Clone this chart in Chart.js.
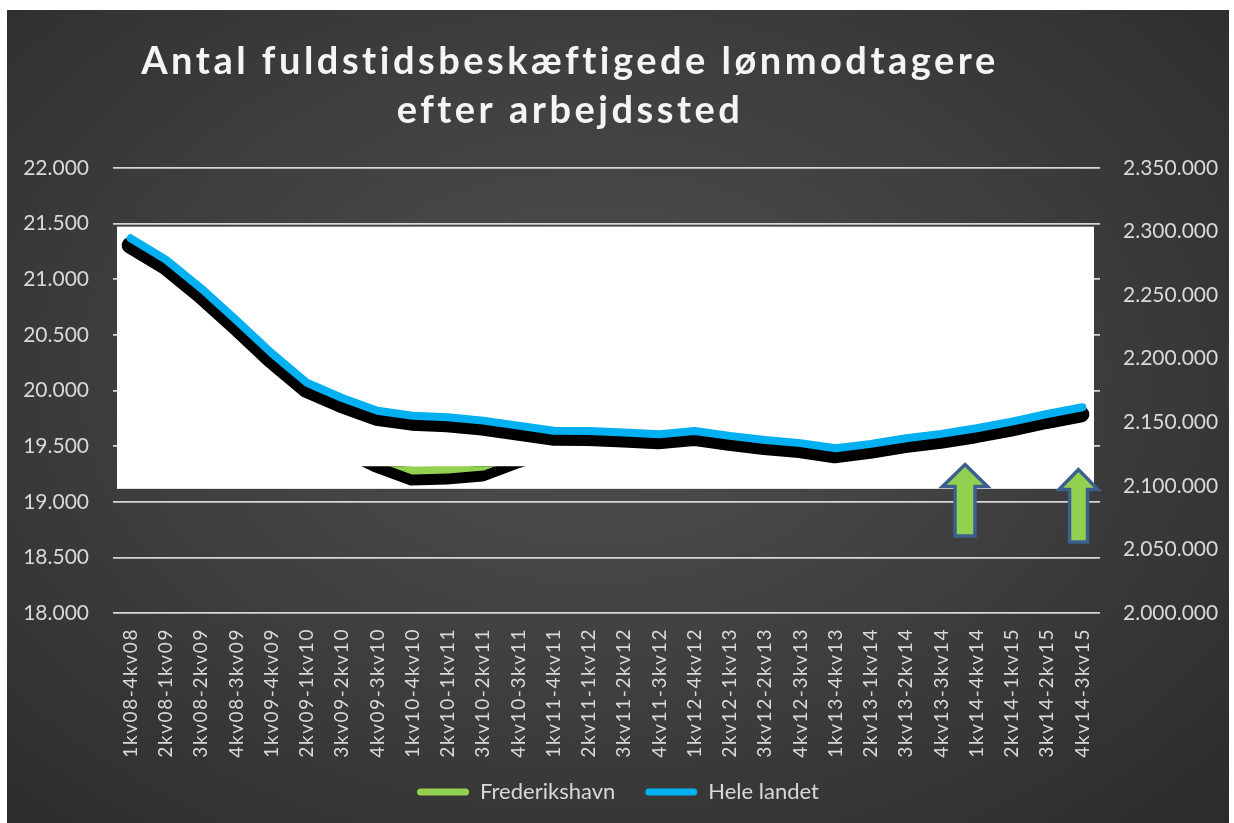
<!DOCTYPE html>
<html>
<head>
<meta charset="utf-8">
<script src="https://cdn.jsdelivr.net/npm/chart.js@4.4.1/dist/chart.umd.min.js"></script>
<style>
  html, body { margin: 0; padding: 0; background: #ffffff; width: 1234px; height: 823px; overflow: hidden; }
  #wrap {
    position: absolute; left: 7px; top: 10px; width: 1222px; height: 813px;
    background: radial-gradient(ellipse 75% 80% at 48% 45%, #4f4f4f 0%, #404040 45%, #2a2a2a 100%);
  }
  canvas { display: block; }
</style>
</head>
<body>
<div id="wrap"><canvas id="c" width="1222" height="813"></canvas></div>
<script>
// ---------- data ----------
const categories = [
  '1kv08-4kv08','2kv08-1kv09','3kv08-2kv09','4kv08-3kv09',
  '1kv09-4kv09','2kv09-1kv10','3kv09-2kv10','4kv09-3kv10',
  '1kv10-4kv10','2kv10-1kv11','3kv10-2kv11','4kv10-3kv11',
  '1kv11-4kv11','2kv11-1kv12','3kv11-2kv12','4kv11-3kv12',
  '1kv12-4kv12','2kv12-1kv13','3kv12-2kv13','4kv12-3kv13',
  '1kv13-4kv13','2kv13-1kv14','3kv13-2kv14','4kv13-3kv14',
  '1kv14-4kv14','2kv14-1kv15','3kv14-2kv15','4kv14-3kv15'
];
// Frederikshavn (left axis) - only the visible part can be read
const frederikshavn = [
  null, null, null, null, null, null, 19550, 19398,
  19280, 19289, 19316, 19435, 19540, null, null, null,
  null, null, null, null, null, null, null, null,
  null, null, null, null
];
// Hele landet (right axis)
const heleLandet = [
  2294700, 2277950, 2255400, 2230300, 2204400, 2181100, 2169100, 2159100,
  2155200, 2154000, 2151300, 2147400, 2143400, 2143200, 2141900, 2140600,
  2143200, 2139300, 2136100, 2133600, 2129600, 2133000, 2137500, 2140900,
  2145300, 2150500, 2156500, 2161800
];
const leftTicks = [18000, 18500, 19000, 19500, 20000, 20500, 21000, 21500, 22000];
const rightTicks = [2000000, 2050000, 2100000, 2150000, 2200000, 2250000, 2300000, 2350000];
const seriesNames = ['Frederikshavn', 'Hele landet'];
const titleLines = ['Antal fuldstidsbeskæftigede lønmodtagere', 'efter arbejdssted'];

// ---------- decoration (in scale units) ----------
const whiteBox = { top: 21473, bottom: 19116 };
const greenWindow = { top: 19318, bottom: 19116 };
const arrowMarks = [
  { at: 23.67, tip: 19334, base: 18692, head: 22.5, headH: 22, shaft: 10 },
  { at: 26.89, tip: 19289, base: 18638, head: 19.5, headH: 20, shaft: 9 }
];

const GREEN = '#92D050', BLUE = '#00B0F0', TXT = '#d9d9d9';
const fmt = v => String(v).replace(/\B(?=(\d{3})+(?!\d))/g, '.');

function boxRect(chart, zone) {
  const ca = chart.chartArea, y = chart.scales.y;
  return { l: ca.left + 4, r: ca.right - 6, t: y.getPixelForValue(zone.top), b: y.getPixelForValue(zone.bottom) };
}

const fxPlugin = {
  id: 'fx',
  afterLayout(chart) {
    const tb = chart.titleBlock;
    if (tb && !tb._fx) {
      const orig = tb.draw;
      tb.draw = function (...a) {
        const c = this.ctx; c.save(); c.letterSpacing = '3.5px'; c.translate(-48, 0);
        orig.apply(this, a); c.restore();
      };
      tb._fx = true;
    }
    const xs = chart.scales.x;
    if (xs && !xs._fx) {
      const o = xs.drawLabels;
      xs._computeLabelArea = () => undefined;
      xs.drawLabels = function (...a) {
        const c = this.ctx; c.save(); c.letterSpacing = '1.6px'; o.apply(this, a); c.restore();
      };
      xs._fx = true;
    }
  },
  beforeDatasetsDraw(chart) {
    const ctx = chart.ctx, r = boxRect(chart, whiteBox);
    ctx.save(); ctx.fillStyle = '#ffffff'; ctx.fillRect(r.l, r.t, r.r - r.l, r.b - r.t); ctx.restore();
  },
  beforeDatasetDraw(chart, args) {
    const ctx = chart.ctx, meta = args.meta;
    const r = boxRect(chart, args.index === 0 ? greenWindow : whiteBox);
    ctx.save();
    ctx.beginPath(); ctx.rect(r.l, r.t, r.r - r.l, r.b - r.t); ctx.clip();
    ctx.save();
    ctx.translate(-1, 7);
    ctx.beginPath();
    let pen = false;
    meta.data.forEach(p => {
      if (p.skip) { pen = false; return; }
      if (!pen) { ctx.moveTo(p.x, p.y); pen = true; } else ctx.lineTo(p.x, p.y);
    });
    ctx.lineWidth = 16; ctx.strokeStyle = '#000000'; ctx.lineJoin = 'round'; ctx.lineCap = 'round';
    ctx.stroke();
    ctx.restore();
  },
  afterDatasetDraw(chart) { chart.ctx.restore(); },
  afterDatasetsDraw(chart) {
    const ctx = chart.ctx, xs = chart.scales.x, ys = chart.scales.y;
    arrowMarks.forEach(a => {
      const x = xs.getPixelForValue(a.at), tip = ys.getPixelForValue(a.tip), base = ys.getPixelForValue(a.base);
      const hb = tip + a.headH;
      ctx.save();
      ctx.beginPath();
      ctx.moveTo(x, tip);
      ctx.lineTo(x + a.head, hb); ctx.lineTo(x + a.shaft, hb); ctx.lineTo(x + a.shaft, base);
      ctx.lineTo(x - a.shaft, base); ctx.lineTo(x - a.shaft, hb); ctx.lineTo(x - a.head, hb);
      ctx.closePath();
      ctx.fillStyle = GREEN; ctx.fill();
      ctx.lineWidth = 3.5; ctx.strokeStyle = '#3d5f8f'; ctx.lineJoin = 'miter'; ctx.stroke();
      ctx.restore();
    });
  }
};

new Chart(document.getElementById('c'), {
  type: 'line',
  data: {
    labels: categories,
    datasets: [
      { label: seriesNames[0], data: frederikshavn, yAxisID: 'y', borderColor: GREEN, backgroundColor: GREEN,
        borderWidth: 8, pointRadius: 0, tension: 0, borderCapStyle: 'round', borderJoinStyle: 'round', spanGaps: false },
      { label: seriesNames[1], data: heleLandet, yAxisID: 'y2', borderColor: BLUE, backgroundColor: BLUE,
        borderWidth: 8, pointRadius: 0, tension: 0, borderCapStyle: 'round', borderJoinStyle: 'round' }
    ]
  },
  options: {
    responsive: false,
    animation: false,
    devicePixelRatio: 1,
    layout: { padding: { left: 0, right: 0, top: 0, bottom: 10 } },
    plugins: {
      tooltip: { enabled: false },
      title: {
        display: true, text: titleLines, color: '#f4f4f4',
        font: { family: 'Lato', weight: 'bold', size: 38, lineHeight: '49px' },
        padding: { top: 27.5, bottom: 32.5 }
      },
      legend: {
        position: 'bottom',
        labels: {
          color: TXT, font: { family: 'Lato', size: 22 }, boxWidth: 52, boxHeight: 7, padding: 30,
          generateLabels(chart) {
            return Chart.defaults.plugins.legend.labels.generateLabels(chart)
              .map(it => Object.assign({}, it, { fillStyle: it.strokeStyle, lineWidth: 0, borderRadius: 3.5 }));
          }
        }
      }
    },
    scales: {
      x: {
        offset: true,
        grid: { display: false, drawTicks: false }, border: { display: false },
        ticks: { color: TXT, font: { family: 'Lato', size: 19 }, minRotation: 90, maxRotation: 90, autoSkip: false, padding: 15 },
        afterFit(s) { s.height = 138; }
      },
      y: {
        position: 'left', min: leftTicks[0], max: leftTicks[leftTicks.length - 1],
        afterBuildTicks(s) { s.ticks = leftTicks.map(v => ({ value: v })); },
        grid: { color: '#d6d6d6', lineWidth: 1.75, drawTicks: false }, border: { display: false },
        ticks: { color: TXT, font: { family: 'Lato', size: 21 }, padding: 24, callback: v => fmt(v) },
        afterFit(s) { s.width = 106; }
      },
      y2: {
        position: 'right', min: rightTicks[0], max: rightTicks[rightTicks.length - 1],
        afterBuildTicks(s) { s.ticks = rightTicks.map(v => ({ value: v })); },
        grid: { display: false, drawTicks: false }, border: { display: false },
        ticks: { color: TXT, font: { family: 'Lato', size: 21 }, padding: 23, callback: v => fmt(v) },
        afterFit(s) { s.width = 129; }
      }
    }
  },
  plugins: [fxPlugin]
});
</script>
</body>
</html>
